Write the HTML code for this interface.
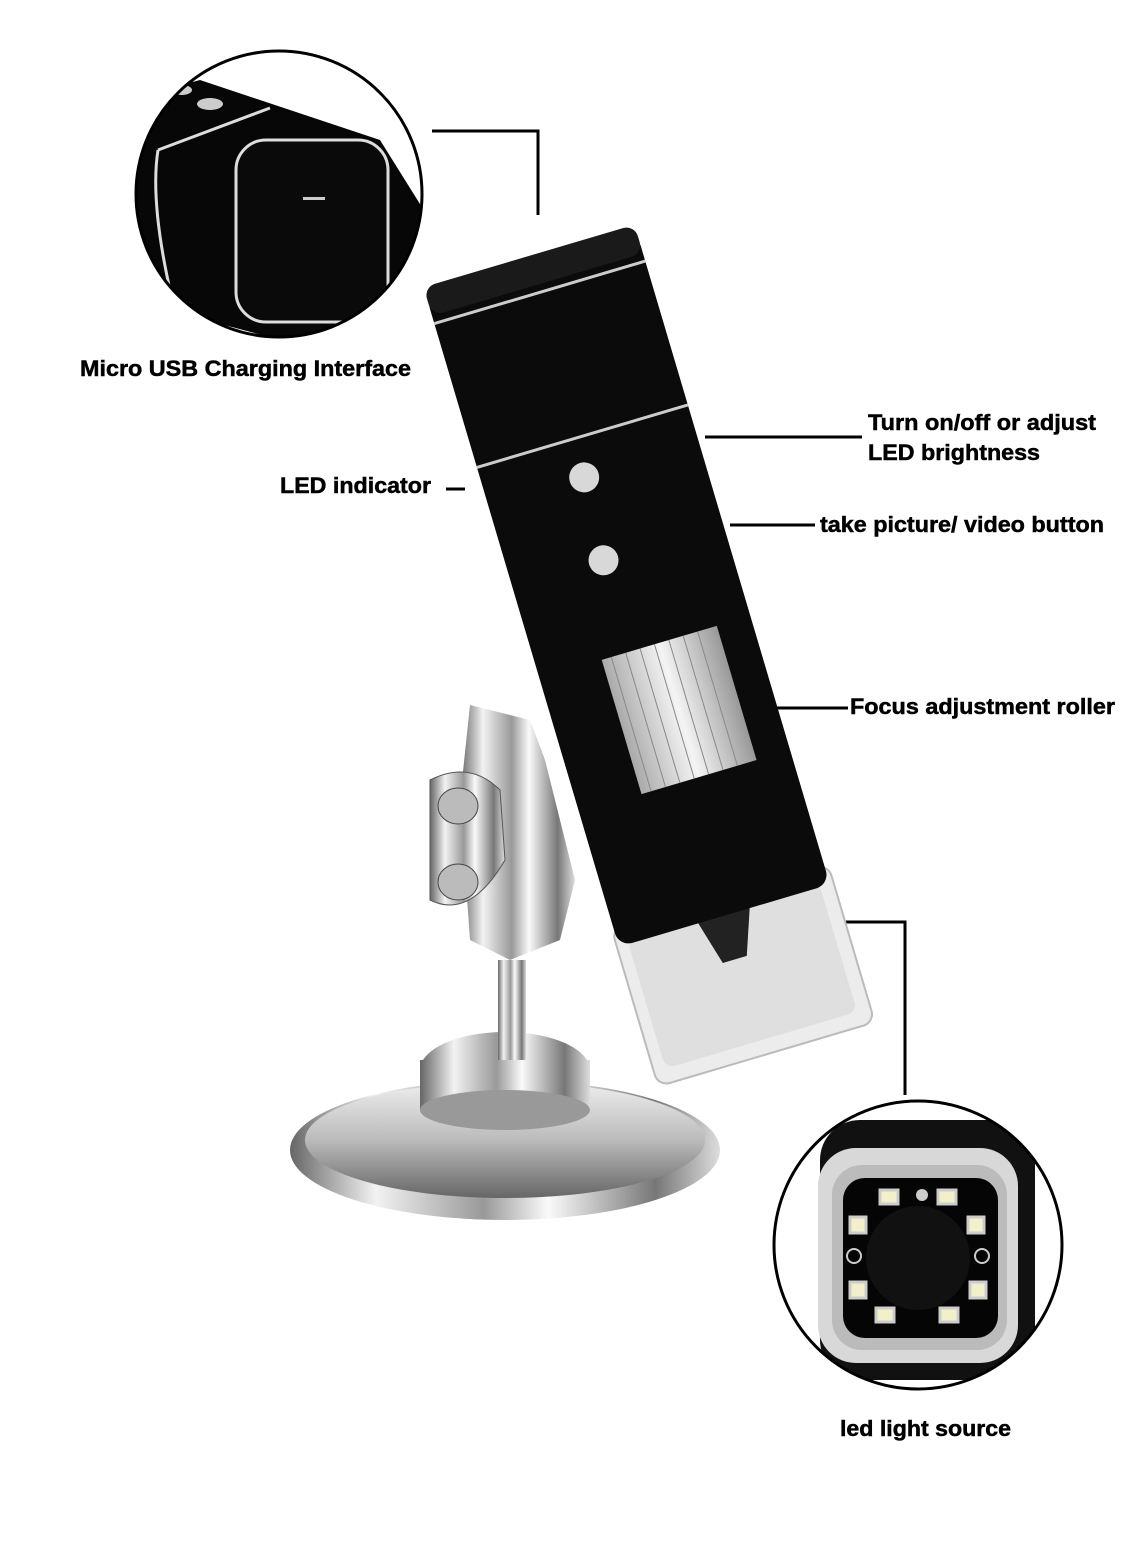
<!DOCTYPE html>
<html><head><meta charset="utf-8"><style>
html,body{margin:0;padding:0;background:#fff}
svg{display:block}
text{font-family:"Liberation Sans",Arial,sans-serif;font-weight:bold;font-size:22px;fill:#000;stroke:#000;stroke-width:0.5}
</style></head><body>
<svg width="1125" height="1565" viewBox="0 0 1125 1565" xmlns="http://www.w3.org/2000/svg">
<defs>
<clipPath id="c1"><circle cx="279" cy="194" r="143"/></clipPath>
<clipPath id="c2"><circle cx="918" cy="1245" r="144"/></clipPath>
<linearGradient id="chrome" x1="0" x2="1" y1="0" y2="0">
<stop offset="0" stop-color="#666"/><stop offset="0.2" stop-color="#f2f2f2"/><stop offset="0.45" stop-color="#999"/><stop offset="0.6" stop-color="#fafafa"/><stop offset="0.85" stop-color="#777"/><stop offset="1" stop-color="#ddd"/></linearGradient>
<linearGradient id="chromeV" x1="0" x2="0" y1="0" y2="1">
<stop offset="0" stop-color="#eee"/><stop offset="0.5" stop-color="#bbb"/><stop offset="1" stop-color="#666"/></linearGradient>
<linearGradient id="roll" x1="0" x2="1"><stop offset="0" stop-color="#aaa"/><stop offset="0.5" stop-color="#f4f4f4"/><stop offset="1" stop-color="#999"/></linearGradient>
</defs>

<!-- top circle -->
<g clip-path="url(#c1)">
<path d="M90 110 L200 80 L380 140 L430 220 L420 340 L300 345 L130 300 L60 260 Z" fill="#070707"/>
<rect x="236" y="140" width="152" height="182" rx="30" fill="#0a0a0a" stroke="#ddd" stroke-width="3"/>
<path d="M158 150 Q150 200 170 290" stroke="#ddd" stroke-width="3" fill="none"/>
<path d="M158 150 L270 108" stroke="#ddd" stroke-width="3" fill="none"/>
<ellipse cx="210" cy="104" rx="13" ry="6" fill="#ccc"/>
<ellipse cx="182" cy="90" rx="10" ry="5" fill="#ccc"/>
<rect x="303" y="197" width="22" height="3" fill="#ccc"/>
</g>
<circle cx="279" cy="194" r="143" fill="none" stroke="#000" stroke-width="3"/>

<!-- connectors -->
<polyline points="432,131 538,131 538,215" fill="none" stroke="#000" stroke-width="3"/>
<line x1="705" y1="437" x2="862" y2="437" stroke="#000" stroke-width="3"/>
<line x1="446" y1="489" x2="465" y2="489" stroke="#000" stroke-width="3"/>
<line x1="730" y1="525" x2="815" y2="525" stroke="#000" stroke-width="3"/>
<line x1="770" y1="708" x2="848" y2="708" stroke="#000" stroke-width="3"/>
<polyline points="800,922 905,922 905,1095" fill="none" stroke="#000" stroke-width="3"/>

<!-- stand base -->
<ellipse cx="505" cy="1150" rx="215" ry="70" fill="url(#chrome)"/>
<ellipse cx="505" cy="1140" rx="200" ry="58" fill="url(#chromeV)"/>
<ellipse cx="505" cy="1070" rx="85" ry="38" fill="url(#chrome)"/>
<rect x="420" y="1060" width="170" height="50" fill="url(#chrome)"/>
<ellipse cx="505" cy="1110" rx="85" ry="20" fill="#999"/>
<rect x="498" y="960" width="28" height="100" fill="url(#chrome)"/>
<!-- clamp -->
<path d="M470 705 L530 720 L545 760 L575 880 L560 940 L510 960 L470 940 L460 800 Z" fill="url(#chrome)"/>
<path d="M430 780 Q470 760 500 790 L505 860 Q470 920 430 900 Z" fill="url(#chrome)" stroke="#555"/>
<ellipse cx="458" cy="806" rx="20" ry="18" fill="#bbb" stroke="#444"/>
<ellipse cx="458" cy="882" rx="20" ry="18" fill="#bbb" stroke="#444"/>

<!-- body -->
<g transform="translate(625,580) rotate(-16.5)">
<rect x="-112" y="330" width="226" height="165" rx="12" fill="#ececec" stroke="#bbb" stroke-width="2"/>
<rect x="-100" y="345" width="200" height="135" rx="10" fill="#dadada" opacity="0.7"/>
<path d="M-30 340 L30 340 L10 395 L-15 395 Z" fill="#222"/>
<rect x="-110" y="-330" width="220" height="680" rx="14" fill="#0b0b0b"/>
<rect x="-110" y="-338" width="220" height="30" rx="12" fill="#1a1a1a"/>
<line x1="-110" y1="-300" x2="110" y2="-300" stroke="#ccc" stroke-width="3"/>
<line x1="-110" y1="-150" x2="110" y2="-150" stroke="#ccc" stroke-width="3"/>
<circle cx="-10" cy="-110" r="15" fill="#d8d8d8"/>
<circle cx="-15" cy="-25" r="15" fill="#d8d8d8"/>
<rect x="-45" y="70" width="120" height="140" fill="url(#roll)"/>
<g stroke="#888" stroke-width="1">
<line x1="-35" y1="70" x2="-35" y2="210"/><line x1="-20" y1="70" x2="-20" y2="210"/><line x1="-5" y1="70" x2="-5" y2="210"/><line x1="10" y1="70" x2="10" y2="210"/><line x1="25" y1="70" x2="25" y2="210"/><line x1="40" y1="70" x2="40" y2="210"/><line x1="55" y1="70" x2="55" y2="210"/>
</g>
</g>

<!-- bottom circle -->
<g clip-path="url(#c2)">
<rect x="820" y="1120" width="215" height="260" rx="40" fill="#111"/>
<rect x="818" y="1148" width="200" height="215" rx="38" fill="#d8d8d8"/>
<rect x="832" y="1165" width="175" height="185" rx="30" fill="#bbb"/>
<rect x="843" y="1178" width="155" height="160" rx="22" fill="#050505"/>
<circle cx="918" cy="1258" r="52" fill="#111"/>
<g fill="#f2f0c8" stroke="#ccc" stroke-width="3">
<rect x="880" y="1190" width="18" height="14"/><rect x="938" y="1190" width="18" height="14"/>
<rect x="850" y="1217" width="16" height="16"/><rect x="968" y="1217" width="16" height="16"/>
<rect x="850" y="1282" width="16" height="16"/><rect x="970" y="1282" width="16" height="16"/>
<rect x="876" y="1308" width="18" height="14"/><rect x="940" y="1308" width="18" height="14"/>
</g>
<circle cx="922" cy="1195" r="6" fill="#ccc"/>
<circle cx="854" cy="1256" r="7" fill="none" stroke="#ccc" stroke-width="2"/>
<circle cx="982" cy="1256" r="7" fill="none" stroke="#ccc" stroke-width="2"/>
</g>
<circle cx="918" cy="1245" r="144" fill="none" stroke="#000" stroke-width="3"/>

<!-- labels -->
<text x="80" y="376" textLength="331" lengthAdjust="spacingAndGlyphs">Micro USB Charging Interface</text>
<text x="868" y="430" textLength="228" lengthAdjust="spacingAndGlyphs">Turn on/off or adjust</text>
<text x="868" y="460" textLength="172" lengthAdjust="spacingAndGlyphs">LED brightness</text>
<text x="280" y="493" textLength="151" lengthAdjust="spacingAndGlyphs">LED indicator</text>
<text x="820" y="532" textLength="284" lengthAdjust="spacingAndGlyphs">take picture/ video button</text>
<text x="850" y="714" textLength="265" lengthAdjust="spacingAndGlyphs">Focus adjustment roller</text>
<text x="840" y="1436" textLength="171" lengthAdjust="spacingAndGlyphs">led light source</text>
</svg>
</body></html>
